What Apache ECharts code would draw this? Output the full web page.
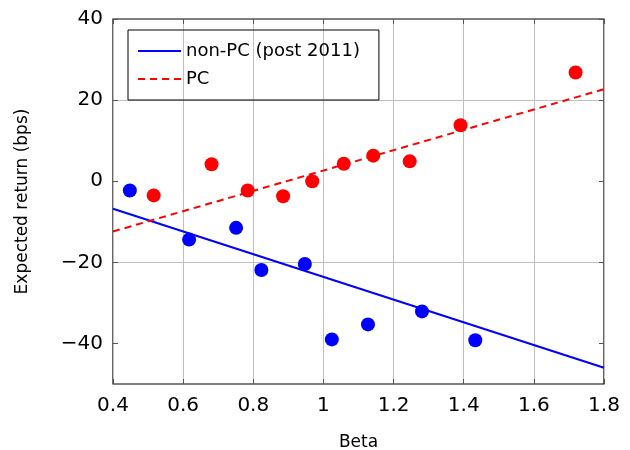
<!DOCTYPE html>
<html><head><meta charset="utf-8">
<script src="https://cdn.jsdelivr.net/npm/echarts@6/dist/echarts.min.js"></script>
<style>html,body{margin:0;padding:0;background:#fff}#c{width:630px;height:450px}</style>
</head><body><div id="c"></div>
<script>
const nonPcX = [0.448, 0.617, 0.751, 0.823, 0.947, 1.024, 1.127, 1.281, 1.433];
const nonPcY = [-2.3, -14.4, -11.5, -21.9, -20.4, -39.0, -35.3, -32.1, -39.2];
const pcX = [0.516, 0.681, 0.784, 0.885, 0.968, 1.058, 1.142, 1.246, 1.391, 1.719];
const pcY = [-3.5, 4.2, -2.3, -3.7, 0.0, 4.3, 6.3, 4.9, 13.8, 26.8];
const fitX = [0.4, 1.8];
const nonPcFit = [-6.8, -46.0];
const pcFit = [-12.4, 22.7];
const xTicks = [0.4, 0.6, 0.8, 1, 1.2, 1.4, 1.6, 1.8];
const yTicks = [-40, -20, 0, 20, 40];

const font = '"DejaVu Sans", sans-serif';
const zip = (a, b) => a.map((v, i) => [v, b[i]]);
const chart = echarts.init(document.getElementById('c'), null, {renderer: 'canvas'});
const fmt = v => String(Math.round(v * 10) / 10).replace('-', '\u2212');
const tickStyle = {show: true, inside: true, length: 5, lineStyle: {color: '#555', width: 1}};
chart.setOption({
  animation: false,
  grid: {left: 113, right: 26, top: 19, bottom: 66, show: true, borderColor: '#000', borderWidth: 1.2,
         backgroundColor: 'transparent', outerBoundsMode: 'none', containLabel: false},
  legend: {
    left: 128, top: 30, orient: 'vertical', itemGap: 10, itemWidth: 43, itemHeight: 18,
    data: ['non-PC (post 2011)', 'PC'],
    borderColor: '#000', borderWidth: 1, padding: [12, 19, 12, 9],
    itemStyle: {opacity: 0},
    textStyle: {fontFamily: font, fontSize: 18, color: '#000'}
  },
  xAxis: [{
    type: 'value', min: 0.4, max: 1.8, interval: 0.2,
    name: 'Beta', nameLocation: 'middle', nameGap: 50,
    nameTextStyle: {fontFamily: font, fontSize: 17, color: '#000'},
    axisLine: {show: false, onZero: false}, axisTick: tickStyle,
    axisLabel: {fontFamily: font, fontSize: 20, color: '#000', margin: 12, formatter: fmt},
    splitLine: {show: true, lineStyle: {color: '#c0c0c0', width: 1}}
  }, {
    type: 'value', min: 0.4, max: 1.8, interval: 0.2, position: 'top',
    axisLine: {show: false, onZero: false}, axisTick: tickStyle, axisLabel: {show: false}, splitLine: {show: false}
  }],
  yAxis: [{
    type: 'value', min: -50, max: 40, interval: 10,
    name: 'Expected return (bps)', nameLocation: 'middle', nameGap: 82, nameRotate: 90,
    nameTextStyle: {fontFamily: font, fontSize: 17, color: '#000'},
    axisLine: {show: false, onZero: false}, axisTick: Object.assign({customValues: yTicks}, tickStyle),
    axisLabel: {fontFamily: font, fontSize: 20, color: '#000', margin: 10,
      formatter: v => yTicks.includes(v) ? fmt(v) : ''},
    splitLine: {show: true, lineStyle: {color: ['transparent', '#c0c0c0'], width: 1}}
  }, {
    type: 'value', min: -50, max: 40, interval: 10, position: 'right',
    axisLine: {show: false, onZero: false}, axisTick: Object.assign({customValues: yTicks}, tickStyle),
    axisLabel: {show: false}, splitLine: {show: false}
  }],
  series: [
    {name: 'non-PC (post 2011)', type: 'line', data: zip(fitX, nonPcFit), symbol: 'none',
     lineStyle: {color: '#0000ff', width: 2}, itemStyle: {color: '#0000ff'}, z: 3},
    {name: 'PC', type: 'line', data: zip(fitX, pcFit), symbol: 'none',
     lineStyle: {color: '#ff0000', width: 2, type: [7, 5]}, itemStyle: {color: '#ff0000'}, z: 3},
    {name: 'nonpc-pts', type: 'scatter', data: zip(nonPcX, nonPcY), symbolSize: 14,
     itemStyle: {color: '#0000ff', opacity: 1}, z: 4},
    {name: 'pc-pts', type: 'scatter', data: zip(pcX, pcY), symbolSize: 14,
     itemStyle: {color: '#ff0000', opacity: 1}, z: 4}
  ]
});
</script></body></html>
